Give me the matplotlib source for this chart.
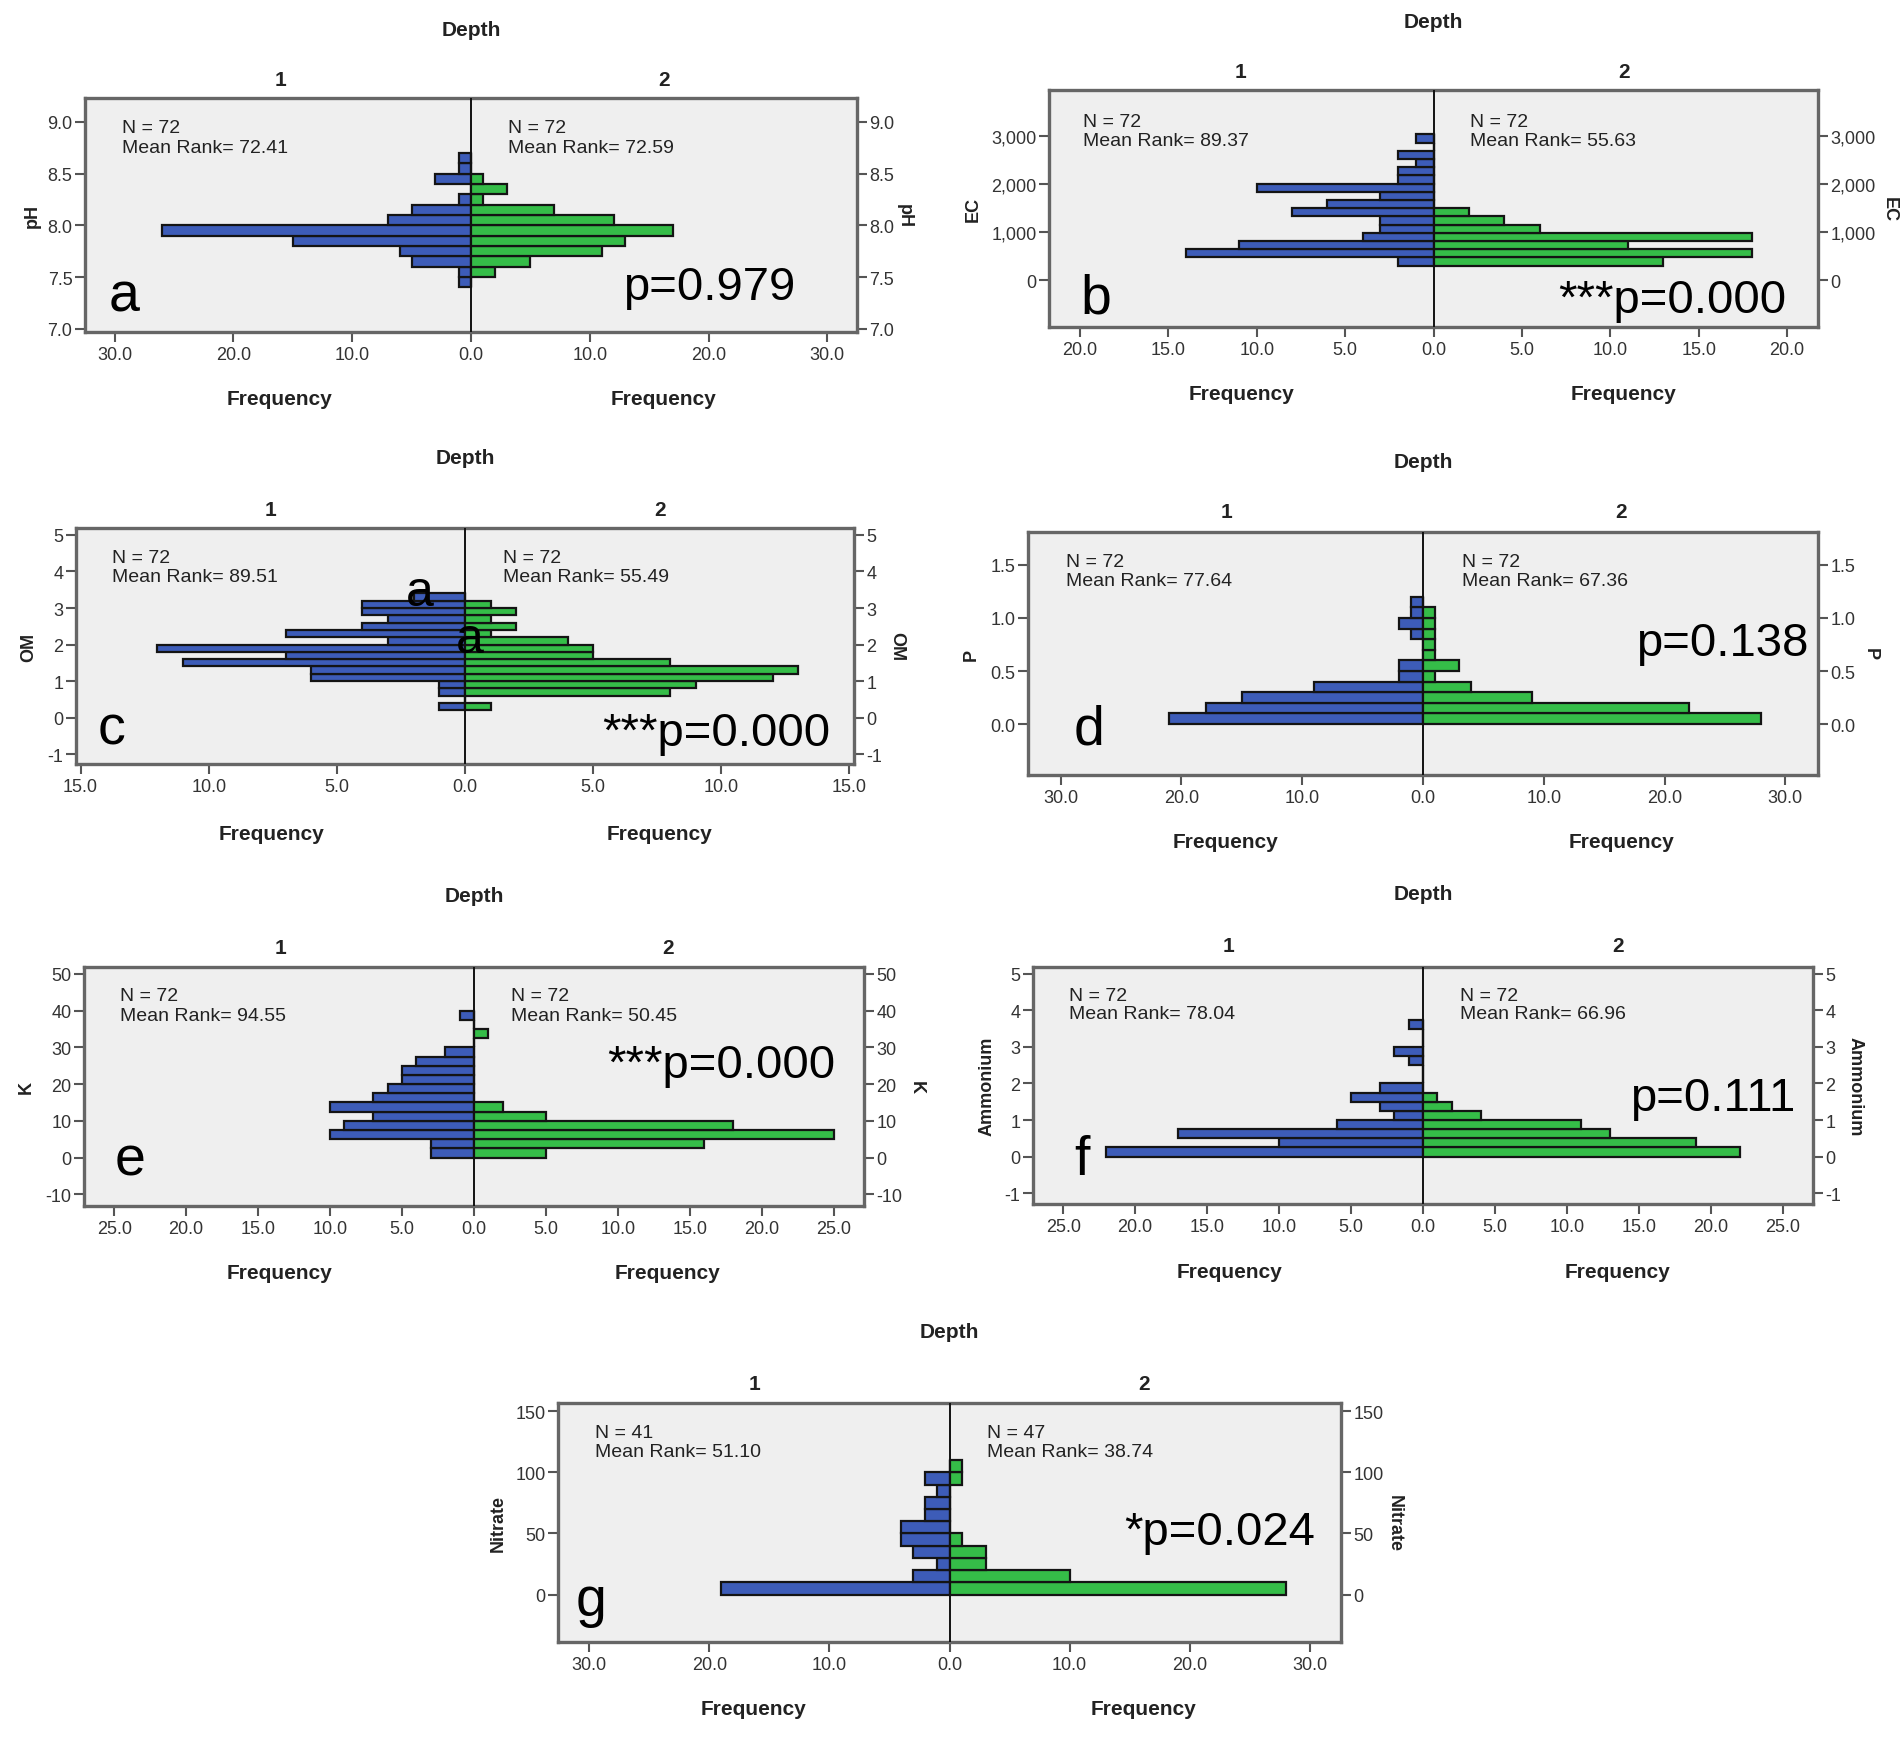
import matplotlib
matplotlib.use("Agg")
import matplotlib.pyplot as plt
import numpy as np

plt.rcParams['font.family'] = ['Liberation Sans', 'DejaVu Sans']

W, H = 1902, 1740

# ---------------- data ----------------
# counts listed from lowest bin to highest bin
ph_bin_start, ph_bin_width = 7.4, 0.1
ph_depth1 = [1, 1, 5, 6, 15, 26, 7, 5, 1, 0, 3, 1, 1]
ph_depth2 = [0, 2, 5, 11, 13, 17, 12, 7, 1, 3, 1, 0, 0]

ec_bin_start, ec_bin_width = 310, 170
ec_depth1 = [2, 14, 11, 4, 3, 3, 8, 6, 3, 10, 2, 2, 1, 2, 0, 1]
ec_depth2 = [13, 18, 11, 18, 6, 4, 2, 0, 0, 0, 0, 0, 0, 0, 0, 0]

om_bin_start, om_bin_width = 0.2, 0.2
om_depth1 = [1, 0, 1, 1, 6, 6, 11, 7, 12, 3, 7, 4, 3, 4, 4, 2]
om_depth2 = [1, 0, 8, 9, 12, 13, 8, 5, 5, 4, 1, 2, 1, 2, 1, 0]

p_bin_start, p_bin_width = 0.0, 0.1
p_depth1 = [21, 18, 15, 9, 2, 2, 0, 0, 1, 2, 1, 1]
p_depth2 = [28, 22, 9, 4, 1, 3, 1, 1, 1, 1, 1, 0]

k_bin_start, k_bin_width = 0.0, 2.5
k_depth1 = [3, 3, 10, 9, 7, 10, 7, 6, 5, 5, 4, 2, 0, 0, 0, 1]
k_depth2 = [5, 16, 25, 18, 5, 2, 0, 0, 0, 0, 0, 0, 0, 1, 0, 0]

nh_bin_start, nh_bin_width = 0.0, 0.25
nh_depth1 = [22, 10, 17, 6, 2, 3, 5, 3, 0, 0, 1, 2, 0, 0, 1]
nh_depth2 = [22, 19, 13, 11, 4, 2, 1, 0, 0, 0, 0, 0, 0, 0, 0]

no_bin_start, no_bin_width = 0.0, 10.0
no_depth1 = [19, 3, 1, 3, 4, 4, 2, 2, 1, 2, 0]
no_depth2 = [28, 10, 3, 3, 1, 0, 0, 0, 0, 1, 1]

variable_names = ['pH', 'EC', 'OM', 'P', 'K', 'Ammonium', 'Nitrate']
panel_letters = ['a', 'b', 'c', 'd', 'e', 'f', 'g']
p_texts = ['p=0.979', '***p=0.000', '***p=0.000', 'p=0.138', '***p=0.000', 'p=0.111', '*p=0.024']
n_depth1 = [72, 72, 72, 72, 72, 72, 41]
n_depth2 = [72, 72, 72, 72, 72, 72, 47]
mean_rank1 = ['72.41', '89.37', '89.51', '77.64', '94.55', '78.04', '51.10']
mean_rank2 = ['72.59', '55.63', '55.49', '67.36', '50.45', '66.96', '38.74']

ph_yticks = [7.0, 7.5, 8.0, 8.5, 9.0]
ph_ytick_labels = ['7.0', '7.5', '8.0', '8.5', '9.0']
ec_yticks = [0, 1000, 2000, 3000]
ec_ytick_labels = ['0', '1,000', '2,000', '3,000']
om_yticks = [-1, 0, 1, 2, 3, 4, 5]
om_ytick_labels = ['-1', '0', '1', '2', '3', '4', '5']
p_yticks = [0.0, 0.5, 1.0, 1.5]
p_ytick_labels = ['0.0', '0.5', '1.0', '1.5']
k_yticks = [-10, 0, 10, 20, 30, 40, 50]
k_ytick_labels = ['-10', '0', '10', '20', '30', '40', '50']
nh_yticks = [-1, 0, 1, 2, 3, 4, 5]
nh_ytick_labels = ['-1', '0', '1', '2', '3', '4', '5']
no_yticks = [0, 50, 100, 150]
no_ytick_labels = ['0', '50', '100', '150']

ph_xticks = [30, 20, 10, 0, 10, 20, 30]
ec_xticks = [20, 15, 10, 5, 0, 5, 10, 15, 20]
om_xticks = [15, 10, 5, 0, 5, 10, 15]
p_xticks = [30, 20, 10, 0, 10, 20, 30]
k_xticks = [25, 20, 15, 10, 5, 0, 5, 10, 15, 20, 25]
nh_xticks = [25, 20, 15, 10, 5, 0, 5, 10, 15, 20, 25]
no_xticks = [30, 20, 10, 0, 10, 20, 30]

# ---------------- layout (pixel positions) ----------------
layout = [
    dict(rect=(85, 99, 857, 333), xmax=32.5, ylim=(6.97, 9.23),
         depth=(471, 30), h1=(280, 80), h2=(664, 80), freq_y=400,
         n1=(122, 133), mr_dy=20, n2x=508, ptxt=(623, 300), letter=(109, 312),
         ylab=(32, 904)),
    dict(rect=(1049, 91, 1818, 328), xmax=21.75, ylim=(-965, 3950),
         depth=(1433, 23), h1=(1241, 72), h2=(1624, 72), freq_y=394,
         n1=(1083, 127), mr_dy=19, n2x=1470, ptxt=(1558, 313), letter=(1080, 313),
         ylab=(973, 1889)),
    dict(rect=(76, 529, 854, 765), xmax=15.18, ylim=(-1.27, 5.19),
         depth=(465, 458), h1=(271, 510), h2=(660, 510), freq_y=835,
         n1=(112, 563), mr_dy=19, n2x=503, ptxt=(602, 746), letter=(98, 745),
         ylab=(29, 897)),
    dict(rect=(1028, 533, 1818, 776), xmax=32.7, ylim=(-0.48, 1.81),
         depth=(1423, 462), h1=(1226, 513), h2=(1621, 513), freq_y=843,
         n1=(1066, 567), mr_dy=19, n2x=1462, ptxt=(1636, 656), letter=(1074, 745),
         ylab=(971, 1870)),
    dict(rect=(84, 968, 864, 1207), xmax=27.1, ylim=(-13.2, 51.9),
         depth=(474, 897), h1=(280, 949), h2=(668, 949), freq_y=1274,
         n1=(120, 1001), mr_dy=20, n2x=511, ptxt=(607, 1078), letter=(115, 1176),
         ylab=(26, 916)),
    dict(rect=(1033, 968, 1813, 1205), xmax=27.1, ylim=(-1.3, 5.19),
         depth=(1423, 895), h1=(1229, 947), h2=(1618, 947), freq_y=1272,
         n1=(1069, 1001), mr_dy=18, n2x=1460, ptxt=(1630, 1111), letter=(1074, 1175),
         ylab=(987, 1855)),
    dict(rect=(558, 1404, 1341, 1643), xmax=32.6, ylim=(-38.8, 156.8),
         depth=(949, 1333), h1=(754, 1385), h2=(1144, 1385), freq_y=1710,
         n1=(595, 1438), mr_dy=19, n2x=987, ptxt=(1124, 1545), letter=(576, 1616),
         ylab=(498, 1394)),
]

hist_data = [
    (ph_bin_start, ph_bin_width, ph_depth1, ph_depth2, ph_yticks, ph_ytick_labels, ph_xticks),
    (ec_bin_start, ec_bin_width, ec_depth1, ec_depth2, ec_yticks, ec_ytick_labels, ec_xticks),
    (om_bin_start, om_bin_width, om_depth1, om_depth2, om_yticks, om_ytick_labels, om_xticks),
    (p_bin_start, p_bin_width, p_depth1, p_depth2, p_yticks, p_ytick_labels, p_xticks),
    (k_bin_start, k_bin_width, k_depth1, k_depth2, k_yticks, k_ytick_labels, k_xticks),
    (nh_bin_start, nh_bin_width, nh_depth1, nh_depth2, nh_yticks, nh_ytick_labels, nh_xticks),
    (no_bin_start, no_bin_width, no_depth1, no_depth2, no_yticks, no_ytick_labels, no_xticks),
]

BLUE = '#3d5cb8'
GREEN = '#35bd48'
EDGE = '#141414'
BG = '#efefef'
FRAME = '#666666'
TXT = '#222222'


def fx(x):
    return x / W


def fy(y):
    return 1 - y / H


fig = plt.figure(figsize=(W / 100, H / 100), dpi=100)
fig.patch.set_facecolor('white')

for i in range(7):
    lay = layout[i]
    start, bw, c1, c2, yt, ytl, xt = hist_data[i]
    L, T, R, B = lay['rect']
    ax = fig.add_axes([fx(L), fy(B), (R - L) / W, (B - T) / H])
    ax.set_facecolor(BG)
    edges = start + bw * np.arange(len(c1))
    ax.barh(edges, -np.array(c1, dtype=float), height=bw, align='edge',
            color=BLUE, edgecolor=EDGE, linewidth=1.6, zorder=2)
    ax.barh(edges, np.array(c2, dtype=float), height=bw, align='edge',
            color=GREEN, edgecolor=EDGE, linewidth=1.6, zorder=2)
    ax.axvline(0, color='#111111', linewidth=1.4, zorder=3)
    ax.set_xlim(-lay['xmax'], lay['xmax'])
    ax.set_ylim(*lay['ylim'])
    n_half = len(xt) // 2
    xpos = [-v for v in xt[:n_half]] + xt[n_half:]
    ax.set_xticks(xpos)
    ax.set_xticklabels(['%.1f' % v for v in xt])
    ax.set_yticks(yt)
    ax.set_yticklabels(ytl)
    ax.tick_params(axis='both', direction='out', length=7, width=1.5,
                   color='#555555', labelsize=13, labelcolor='#333333', pad=3)
    ax.tick_params(axis='y', right=True, labelright=True, pad=2)
    for s in ax.spines.values():
        s.set_color(FRAME)
        s.set_linewidth(2.4)

    # headers
    fig.text(fx(lay['depth'][0]), fy(lay['depth'][1]), 'Depth', ha='center', va='center',
             fontsize=15, fontweight='bold', color=TXT)
    fig.text(fx(lay['h1'][0]), fy(lay['h1'][1]), '1', ha='center', va='center',
             fontsize=15, fontweight='bold', color=TXT)
    fig.text(fx(lay['h2'][0]), fy(lay['h2'][1]), '2', ha='center', va='center',
             fontsize=15, fontweight='bold', color=TXT)
    fig.text(fx(lay['h1'][0]), fy(lay['freq_y']), 'Frequency', ha='center', va='center',
             fontsize=15, fontweight='bold', color=TXT)
    fig.text(fx(lay['h2'][0]), fy(lay['freq_y']), 'Frequency', ha='center', va='center',
             fontsize=15, fontweight='bold', color=TXT)

    # N / mean rank
    nx, ny = lay['n1']
    fig.text(fx(nx), fy(ny), 'N = %d' % n_depth1[i], ha='left', va='baseline',
             fontsize=14, color=TXT)
    fig.text(fx(nx), fy(ny + lay['mr_dy']), 'Mean Rank= %s' % mean_rank1[i],
             ha='left', va='baseline', fontsize=14, color=TXT)
    fig.text(fx(lay['n2x']), fy(ny), 'N = %d' % n_depth2[i], ha='left', va='baseline',
             fontsize=14, color=TXT)
    fig.text(fx(lay['n2x']), fy(ny + lay['mr_dy']), 'Mean Rank= %s' % mean_rank2[i],
             ha='left', va='baseline', fontsize=14, color=TXT)

    # y labels
    ymid = (T + B) / 2
    fig.text(fx(lay['ylab'][0]), fy(ymid), variable_names[i], rotation=90, ha='center',
             va='center', fontsize=13, fontweight='bold', color=TXT)
    fig.text(fx(lay['ylab'][1]), fy(ymid), variable_names[i], rotation=270, ha='center',
             va='center', fontsize=13, fontweight='bold', color=TXT)

    # p-values and panel letters
    fig.text(fx(lay['ptxt'][0]), fy(lay['ptxt'][1]), p_texts[i], ha='left', va='baseline',
             fontsize=34, color='black')
    fig.text(fx(lay['letter'][0]), fy(lay['letter'][1]), panel_letters[i], ha='left',
             va='baseline', fontsize=40, color='black')

# extra annotation letters in panel c
fig.text(fx(406), fy(606), 'a', ha='left', va='baseline', fontsize=36, color='black')
fig.text(fx(456), fy(653), 'a', ha='left', va='baseline', fontsize=36, color='black')

fig.savefig('out.png', dpi=100, facecolor='white')
